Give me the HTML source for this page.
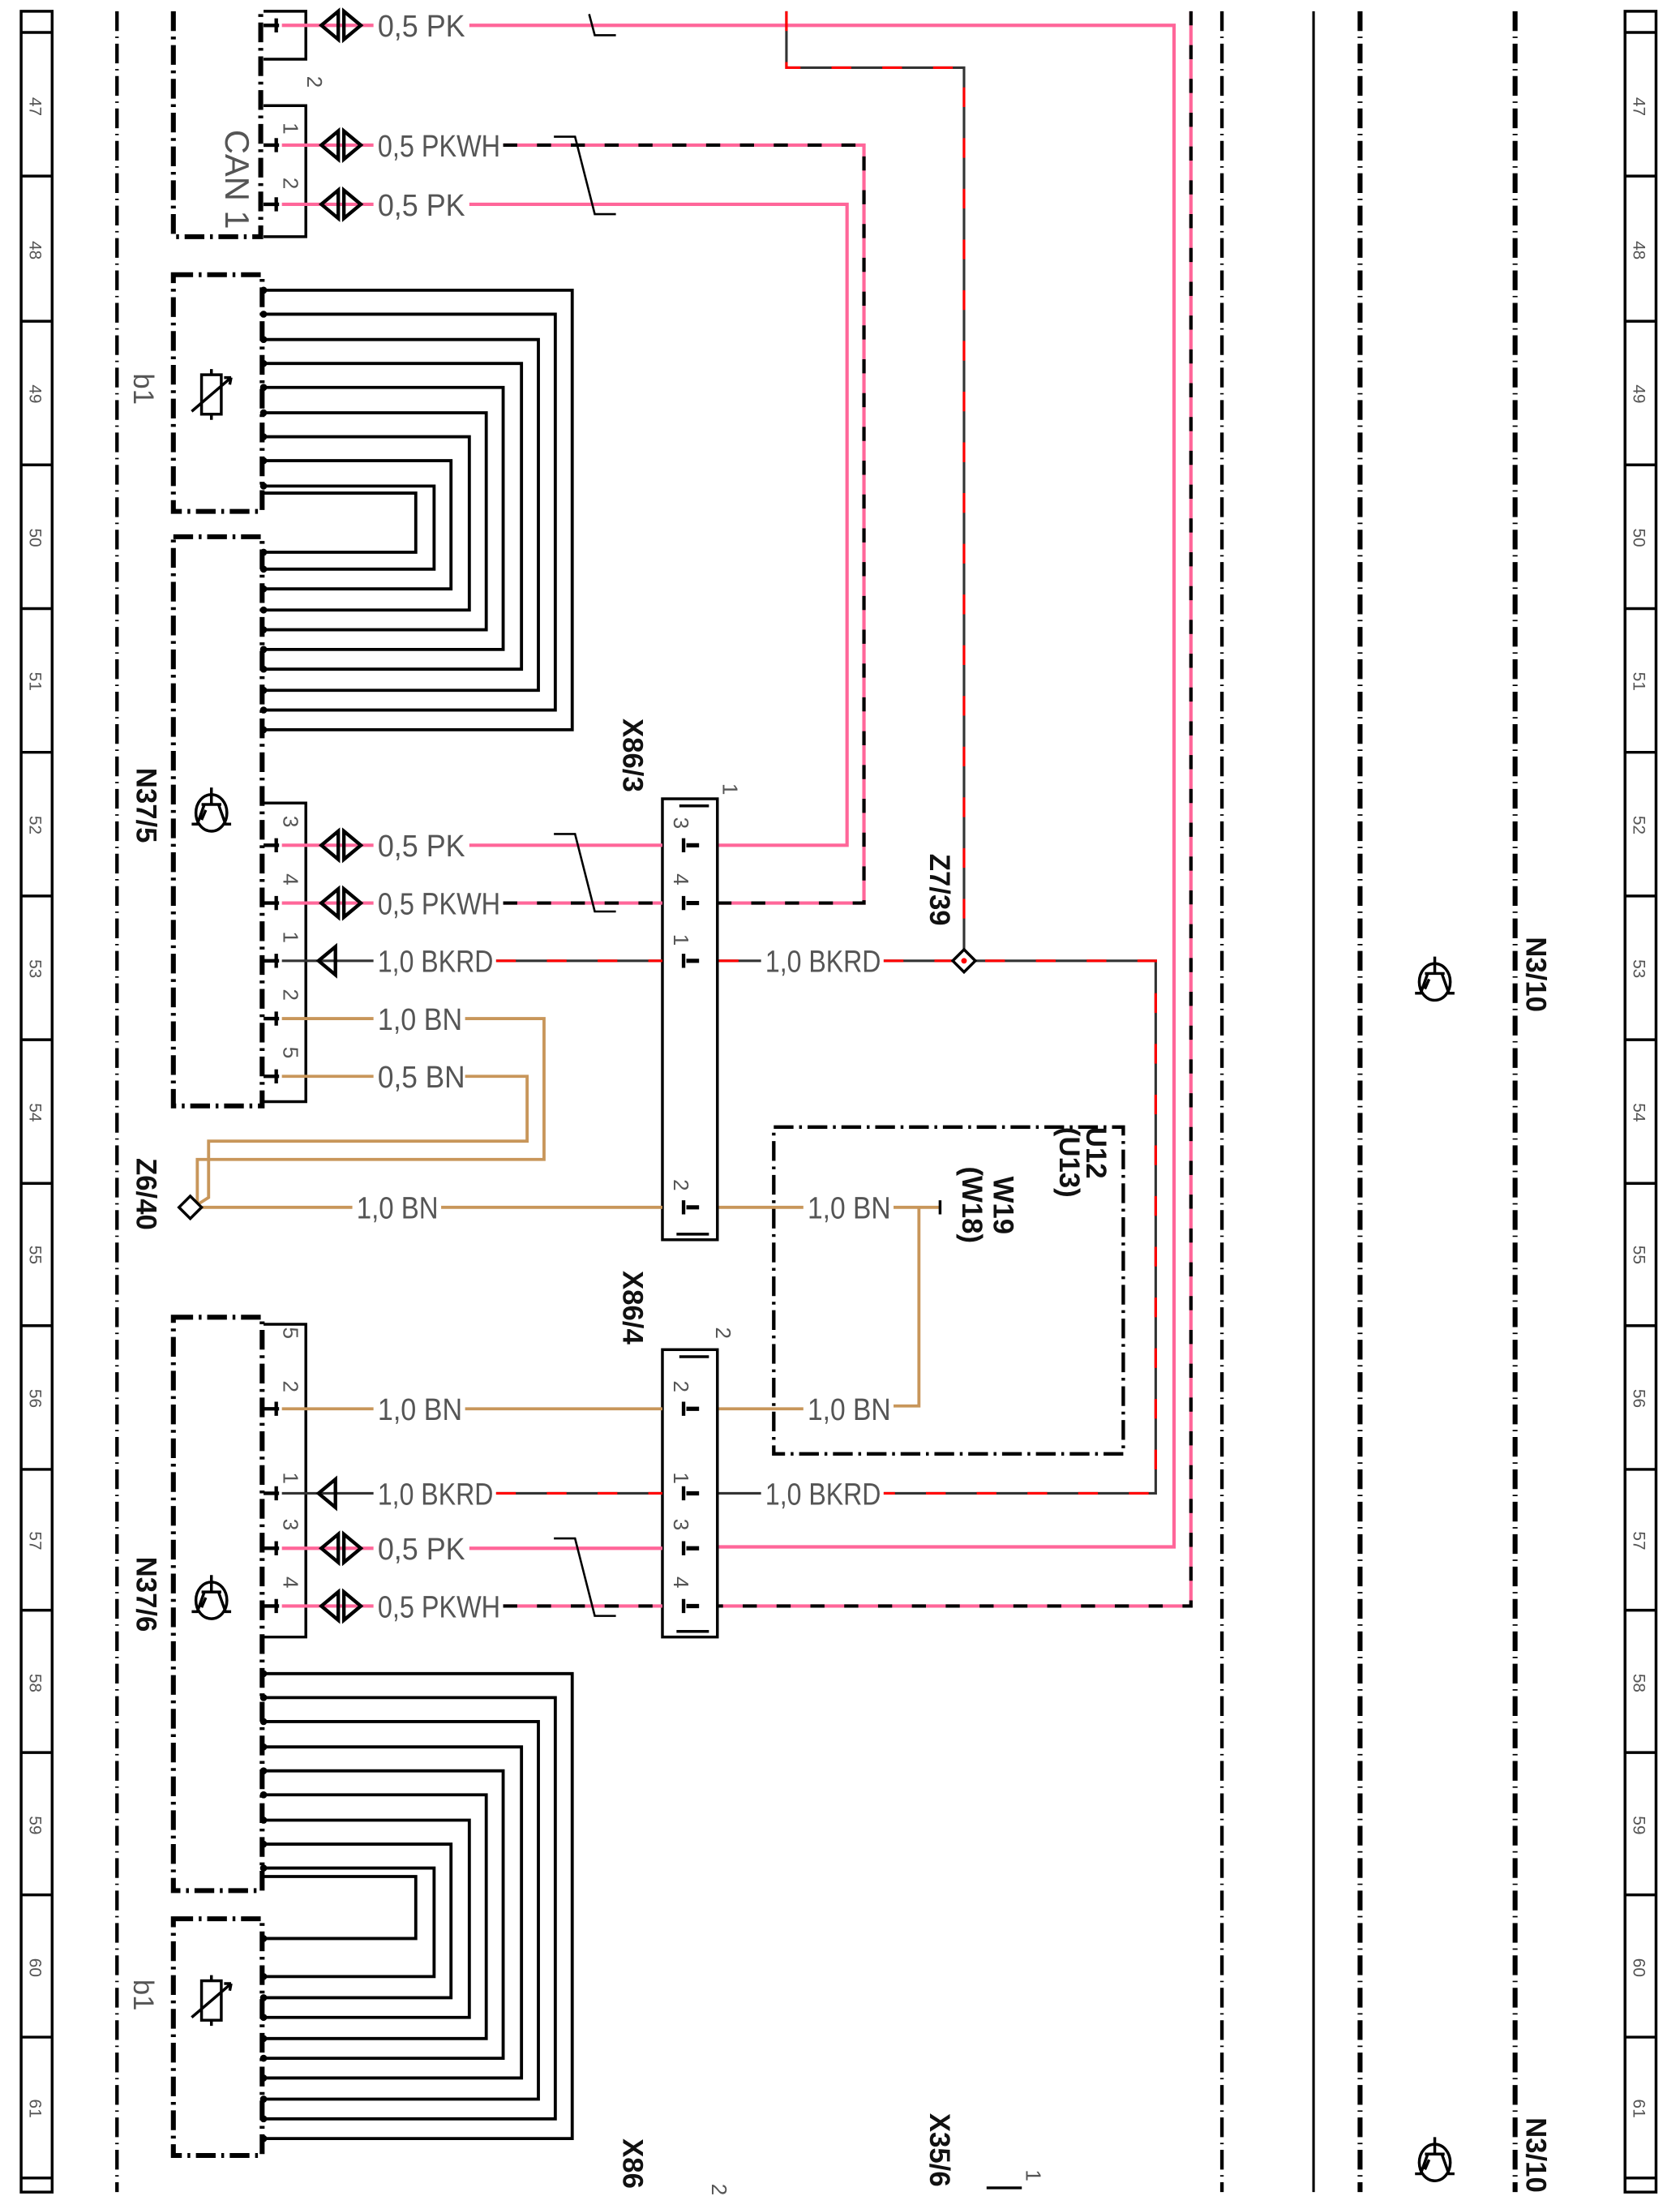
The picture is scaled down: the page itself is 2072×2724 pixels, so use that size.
<!DOCTYPE html>
<html><head><meta charset="utf-8"><style>
html,body{margin:0;padding:0;background:#fff}
svg{display:block}
.t{font-family:"Liberation Sans",sans-serif;fill:#555;font-size:22px}
.b{font-family:"Liberation Sans",sans-serif;fill:#111;font-size:20px;font-weight:bold}
.n{font-family:"Liberation Sans",sans-serif;fill:#555;font-size:12px}
</style></head><body>
<svg width="2072" height="2724" viewBox="0 0 1192 1568" preserveAspectRatio="none" xmlns="http://www.w3.org/2000/svg">
<rect width="1192" height="1568" fill="#fff"/>
<g fill="none" stroke="#000" stroke-width="2">
<rect x="15" y="8" width="22" height="1548"/>
<rect x="1153" y="8" width="22" height="1548"/>
</g>
<g stroke="#000" stroke-width="2">
<line x1="15" y1="23" x2="37" y2="23"/><line x1="1153" y1="23" x2="1175" y2="23"/>
<line x1="15" y1="125" x2="37" y2="125"/><line x1="1153" y1="125" x2="1175" y2="125"/>
<line x1="15" y1="228" x2="37" y2="228"/><line x1="1153" y1="228" x2="1175" y2="228"/>
<line x1="15" y1="330" x2="37" y2="330"/><line x1="1153" y1="330" x2="1175" y2="330"/>
<line x1="15" y1="432" x2="37" y2="432"/><line x1="1153" y1="432" x2="1175" y2="432"/>
<line x1="15" y1="534" x2="37" y2="534"/><line x1="1153" y1="534" x2="1175" y2="534"/>
<line x1="15" y1="636" x2="37" y2="636"/><line x1="1153" y1="636" x2="1175" y2="636"/>
<line x1="15" y1="738" x2="37" y2="738"/><line x1="1153" y1="738" x2="1175" y2="738"/>
<line x1="15" y1="840" x2="37" y2="840"/><line x1="1153" y1="840" x2="1175" y2="840"/>
<line x1="15" y1="941" x2="37" y2="941"/><line x1="1153" y1="941" x2="1175" y2="941"/>
<line x1="15" y1="1043" x2="37" y2="1043"/><line x1="1153" y1="1043" x2="1175" y2="1043"/>
<line x1="15" y1="1143" x2="37" y2="1143"/><line x1="1153" y1="1143" x2="1175" y2="1143"/>
<line x1="15" y1="1244" x2="37" y2="1244"/><line x1="1153" y1="1244" x2="1175" y2="1244"/>
<line x1="15" y1="1345" x2="37" y2="1345"/><line x1="1153" y1="1345" x2="1175" y2="1345"/>
<line x1="15" y1="1446" x2="37" y2="1446"/><line x1="1153" y1="1446" x2="1175" y2="1446"/>
<line x1="15" y1="1546" x2="37" y2="1546"/><line x1="1153" y1="1546" x2="1175" y2="1546"/>
</g>
<g class="n">
<text transform="translate(21,69) rotate(90)">47</text><text transform="translate(1159,69) rotate(90)">47</text>
<text transform="translate(21,171) rotate(90)">48</text><text transform="translate(1159,171) rotate(90)">48</text>
<text transform="translate(21,273) rotate(90)">49</text><text transform="translate(1159,273) rotate(90)">49</text>
<text transform="translate(21,375) rotate(90)">50</text><text transform="translate(1159,375) rotate(90)">50</text>
<text transform="translate(21,477) rotate(90)">51</text><text transform="translate(1159,477) rotate(90)">51</text>
<text transform="translate(21,579) rotate(90)">52</text><text transform="translate(1159,579) rotate(90)">52</text>
<text transform="translate(21,681) rotate(90)">53</text><text transform="translate(1159,681) rotate(90)">53</text>
<text transform="translate(21,783) rotate(90)">54</text><text transform="translate(1159,783) rotate(90)">54</text>
<text transform="translate(21,884) rotate(90)">55</text><text transform="translate(1159,884) rotate(90)">55</text>
<text transform="translate(21,986) rotate(90)">56</text><text transform="translate(1159,986) rotate(90)">56</text>
<text transform="translate(21,1087) rotate(90)">57</text><text transform="translate(1159,1087) rotate(90)">57</text>
<text transform="translate(21,1188) rotate(90)">58</text><text transform="translate(1159,1188) rotate(90)">58</text>
<text transform="translate(21,1289) rotate(90)">59</text><text transform="translate(1159,1289) rotate(90)">59</text>
<text transform="translate(21,1390) rotate(90)">60</text><text transform="translate(1159,1390) rotate(90)">60</text>
<text transform="translate(21,1490) rotate(90)">61</text><text transform="translate(1159,1490) rotate(90)">61</text>
</g>
<g fill="none" stroke="#000">
<line x1="83" y1="8" x2="83" y2="1556" stroke-width="2.5" stroke-dasharray="14,4,1,4"/>
<line x1="867" y1="8" x2="867" y2="1556" stroke-width="2.5" stroke-dasharray="14,4,1,4"/>
<line x1="932" y1="8" x2="932" y2="1556" stroke-width="1.8"/>
<line x1="965" y1="8" x2="965" y2="1556" stroke-width="3.5" stroke-dasharray="14,4,1,4"/>
<line x1="1075" y1="8" x2="1075" y2="1556" stroke-width="3.5" stroke-dasharray="14,4,1,4"/>
</g>
<g fill="none" stroke="#000" stroke-width="3.5" stroke-dasharray="14,4,2,4">
<path d="M123,8 V168 H185 V8"/>
<rect x="123" y="195" width="63" height="168"/>
<rect x="123" y="381" width="63" height="404"/>
<rect x="123" y="935" width="63" height="407"/>
<rect x="123" y="1362" width="63" height="168"/>
<rect x="549" y="800" width="248" height="232" stroke-width="2.5"/>
</g>
<g fill="none" stroke="#000" stroke-width="2">
<path d="M187,8 H217 V42 H187"/>
<path d="M187,75 H217 V168 H187"/>
<path d="M187,570 H217 V782 H187"/>
<path d="M187,940 H217 V1162 H187"/>
<rect x="470" y="567" width="39" height="313"/>
<line x1="482" y1="572" x2="503" y2="572"/><line x1="480" y1="876" x2="503" y2="876"/>
<rect x="470" y="958" width="39" height="204"/>
<line x1="482" y1="963" x2="503" y2="963"/><line x1="480" y1="1158" x2="503" y2="1158"/>
<path d="M700,1553 H725"/>
</g>
<g fill="none" stroke="#000" stroke-width="2.2">
<path d="M187,206 H406 V518 H187"/>
<path d="M187,223 H394 V504 H187"/>
<path d="M187,241 H382 V490 H187"/>
<path d="M187,258 H370 V475 H187"/>
<path d="M187,275 H357 V461 H187"/>
<path d="M187,293 H345 V447 H187"/>
<path d="M187,310 H333 V433 H187"/>
<path d="M187,327 H320 V418 H187"/>
<path d="M187,345 H308 V404 H187"/>
<path d="M187,350 H295 V392 H187"/>
<path d="M187,1188 H406 V1518 H187"/>
<path d="M187,1205 H394 V1504 H187"/>
<path d="M187,1222 H382 V1490 H187"/>
<path d="M187,1240 H370 V1475 H187"/>
<path d="M187,1257 H357 V1461 H187"/>
<path d="M187,1274 H345 V1447 H187"/>
<path d="M187,1292 H333 V1432 H187"/>
<path d="M187,1309 H320 V1418 H187"/>
<path d="M187,1326 H308 V1403 H187"/>
<path d="M187,1332 H295 V1376 H187"/>
</g>
<g fill="#000">
<circle cx="187" cy="206" r="2.5"/><circle cx="187" cy="223" r="2.5"/><circle cx="187" cy="241" r="2.5"/><circle cx="187" cy="258" r="2.5"/><circle cx="187" cy="275" r="2.5"/><circle cx="187" cy="293" r="2.5"/><circle cx="187" cy="310" r="2.5"/><circle cx="187" cy="327" r="2.5"/><circle cx="187" cy="345" r="2.5"/>
<circle cx="187" cy="392" r="2.5"/><circle cx="187" cy="404" r="2.5"/><circle cx="187" cy="418" r="2.5"/><circle cx="187" cy="433" r="2.5"/><circle cx="187" cy="447" r="2.5"/><circle cx="187" cy="461" r="2.5"/><circle cx="187" cy="475" r="2.5"/><circle cx="187" cy="490" r="2.5"/><circle cx="187" cy="504" r="2.5"/><circle cx="187" cy="518" r="2.5"/>
<circle cx="187" cy="1188" r="2.5"/><circle cx="187" cy="1205" r="2.5"/><circle cx="187" cy="1222" r="2.5"/><circle cx="187" cy="1240" r="2.5"/><circle cx="187" cy="1257" r="2.5"/><circle cx="187" cy="1274" r="2.5"/><circle cx="187" cy="1292" r="2.5"/><circle cx="187" cy="1309" r="2.5"/><circle cx="187" cy="1326" r="2.5"/>
<circle cx="187" cy="1376" r="2.5"/><circle cx="187" cy="1403" r="2.5"/><circle cx="187" cy="1418" r="2.5"/><circle cx="187" cy="1432" r="2.5"/><circle cx="187" cy="1447" r="2.5"/><circle cx="187" cy="1461" r="2.5"/><circle cx="187" cy="1475" r="2.5"/><circle cx="187" cy="1490" r="2.5"/><circle cx="187" cy="1504" r="2.5"/><circle cx="187" cy="1518" r="2.5"/>
</g>
<g fill="none" stroke="#ff6699" stroke-width="2.4">
<path d="M200,18 H265"/><path d="M333,18 H833 V1098 H510"/>
<path d="M200,145 H265"/><path d="M333,145 H601 V600 H510"/>
<path d="M200,600 H265"/><path d="M333,600 H470"/>
<path d="M200,1099 H265"/><path d="M333,1099 H470"/>
<path d="M200,103 H265"/><path d="M200,641 H265"/><path d="M200,1140 H265"/>
<path d="M357,103 H613 V641 H510"/><path d="M357,641 H470"/>
<path d="M845,8 V1140 H510"/><path d="M357,1140 H470"/>
</g>
<g fill="none" stroke="#000" stroke-width="2.4" stroke-dasharray="10,14">
<path d="M357,103 H613 V641 H510"/><path d="M357,641 H470"/>
<path d="M845,8 V1140 H510"/><path d="M357,1140 H470"/>
</g>
<g fill="none" stroke="#333" stroke-width="1.8">
<path d="M558,8 V48 H684 V682"/>
<path d="M200,682 H265"/><path d="M352,682 H470"/><path d="M510,682 H540"/><path d="M627,682 H820 V1060 H627"/><path d="M540,1060 H510"/><path d="M352,1060 H470"/><path d="M200,1060 H265"/>
</g>
<g fill="none" stroke="#ff0000" stroke-width="1.8" stroke-dasharray="14,22">
<path d="M558,8 V48 H684 V682"/>
<path d="M352,682 H470"/><path d="M510,682 H540"/><path d="M627,682 H820 V1060 H627"/><path d="M352,1060 H470"/>
</g>
<g fill="none" stroke="#c8965a" stroke-width="2.2">
<path d="M200,723 H265"/><path d="M330,723 H386 V823 H140 V855"/>
<path d="M200,764 H265"/><path d="M330,764 H374 V810 H148 V850 L137,857"/>
<path d="M140,857 H250"/><path d="M313,857 H470"/><path d="M510,857 H570"/><path d="M634,857 H667"/>
<path d="M652,857 V998 H634"/><path d="M570,1000 H510"/><path d="M470,1000 H330"/><path d="M200,1000 H265"/>
</g>
<line x1="667" y1="852" x2="667" y2="862" stroke="#000" stroke-width="2"/>
<g fill="none" stroke="#000" stroke-width="2.5">
<path d="M196,13 V23 M187,18 H198"/><path d="M196,98 V108 M187,103 H198"/><path d="M196,140 V150 M187,145 H198"/>
<path d="M196,595 V605 M187,600 H198"/><path d="M196,636 V646 M187,641 H198"/><path d="M196,677 V687 M187,682 H198"/><path d="M196,718 V728 M187,723 H198"/><path d="M196,759 V769 M187,764 H198"/>
<path d="M196,995 V1005 M187,1000 H198"/><path d="M196,1055 V1065 M187,1060 H198"/><path d="M196,1094 V1104 M187,1099 H198"/><path d="M196,1135 V1145 M187,1140 H198"/>
<path d="M485,595 V605 M485,636 V646 M485,677 V687 M485,852 V862"/>
<path d="M485,995 V1005 M485,1055 V1065 M485,1094 V1104 M485,1135 V1145"/>
</g>
<g stroke="#000" stroke-width="3">
<path d="M487,600 H496 M487,641 H496 M487,682 H496 M487,857 H496 M487,1000 H496 M487,1060 H496 M487,1099 H496 M487,1140 H496"/>
</g>
<g fill="none" stroke="#000" stroke-width="2.5">
<path d="M240,8 L228,18 L240,28 Z M244,8 L256,18 L244,28 Z"/>
<path d="M240,93 L228,103 L240,113 Z M244,93 L256,103 L244,113 Z"/>
<path d="M240,135 L228,145 L240,155 Z M244,135 L256,145 L244,155 Z"/>
<path d="M240,590 L228,600 L240,610 Z M244,590 L256,600 L244,610 Z"/>
<path d="M240,631 L228,641 L240,651 Z M244,631 L256,641 L244,651 Z"/>
<path d="M238,672 L226,682 L238,692 Z"/>
<path d="M238,1050 L226,1060 L238,1070 Z"/>
<path d="M240,1089 L228,1099 L240,1109 Z M244,1089 L256,1099 L244,1109 Z"/>
<path d="M240,1130 L228,1140 L240,1150 Z M244,1130 L256,1140 L244,1150 Z"/>
</g>
<g fill="none" stroke="#000" stroke-width="1.5">
<path d="M418,10 L422,25 H437"/>
<path d="M393,97 H408 L422,152 H437"/>
<path d="M393,592 H408 L422,647 H437"/>
<path d="M393,1092 H408 L422,1147 H437"/>
</g>
<g fill="#fff" stroke="#000" stroke-width="2">
<path d="M684,674 L692,682 L684,690 L676,682 Z"/>
<path d="M135,849 L143,857 L135,865 L127,857 Z"/>
</g>
<circle cx="684" cy="682" r="2" fill="#f00"/>
<g fill="none" stroke="#000" stroke-width="2">
<g transform="translate(150,577)"><ellipse rx="11" ry="13"/><path d="M0,-18 V-6 M-7,-6 H7 M-5,-6 L-10,8 H-14 M5,-6 L10,8 H14 M-4,-2 L-7,5"/></g>
<g transform="translate(150,1136)"><ellipse rx="11" ry="13"/><path d="M0,-18 V-6 M-7,-6 H7 M-5,-6 L-10,8 H-14 M5,-6 L10,8 H14 M-4,-2 L-7,5"/></g>
<g transform="translate(1018,697)"><ellipse rx="11" ry="13"/><path d="M0,-18 V-6 M-7,-6 H7 M-5,-6 L-10,8 H-14 M5,-6 L10,8 H14 M-4,-2 L-7,5"/></g>
<g transform="translate(1018,1535)"><ellipse rx="11" ry="13"/><path d="M0,-18 V-6 M-7,-6 H7 M-5,-6 L-10,8 H-14 M5,-6 L10,8 H14 M-4,-2 L-7,5"/></g>
<g transform="translate(150,280)"><rect x="-7" y="-14" width="14" height="28"/><path d="M-14,12 L14,-12 M0,-18 V-14 M0,14 V18 M14,-12 L9,-12 M14,-12 L13,-7"/></g>
<g transform="translate(150,1420)"><rect x="-7" y="-14" width="14" height="28"/><path d="M-14,12 L14,-12 M0,-18 V-14 M0,14 V18 M14,-12 L9,-12 M14,-12 L13,-7"/></g>
</g>
<g class="t" lengthAdjust="spacingAndGlyphs">
<text x="268" y="26" textLength="62" lengthAdjust="spacingAndGlyphs">0,5 PK</text>
<text x="268" y="111" textLength="87" lengthAdjust="spacingAndGlyphs">0,5 PKWH</text>
<text x="268" y="153" textLength="62" lengthAdjust="spacingAndGlyphs">0,5 PK</text>
<text x="268" y="608" textLength="62" lengthAdjust="spacingAndGlyphs">0,5 PK</text>
<text x="268" y="649" textLength="87" lengthAdjust="spacingAndGlyphs">0,5 PKWH</text>
<text x="268" y="690" textLength="82" lengthAdjust="spacingAndGlyphs">1,0 BKRD</text>
<text x="268" y="731" textLength="60" lengthAdjust="spacingAndGlyphs">1,0 BN</text>
<text x="268" y="772" textLength="62" lengthAdjust="spacingAndGlyphs">0,5 BN</text>
<text x="253" y="865" textLength="58" lengthAdjust="spacingAndGlyphs">1,0 BN</text>
<text x="543" y="690" textLength="82" lengthAdjust="spacingAndGlyphs">1,0 BKRD</text>
<text x="573" y="865" textLength="59" lengthAdjust="spacingAndGlyphs">1,0 BN</text>
<text x="573" y="1008" textLength="59" lengthAdjust="spacingAndGlyphs">1,0 BN</text>
<text x="268" y="1008" textLength="60" lengthAdjust="spacingAndGlyphs">1,0 BN</text>
<text x="268" y="1068" textLength="82" lengthAdjust="spacingAndGlyphs">1,0 BKRD</text>
<text x="543" y="1068" textLength="82" lengthAdjust="spacingAndGlyphs">1,0 BKRD</text>
<text x="268" y="1107" textLength="62" lengthAdjust="spacingAndGlyphs">0,5 PK</text>
<text x="268" y="1148" textLength="87" lengthAdjust="spacingAndGlyphs">0,5 PKWH</text>
</g>
<g class="t" style="font-size:15px">
<text transform="translate(201,87) rotate(90)">1</text>
<text transform="translate(201,126) rotate(90)">2</text>
<text transform="translate(218,54) rotate(90)">2</text>
<text transform="translate(201,579) rotate(90)">3</text><text transform="translate(201,620) rotate(90)">4</text><text transform="translate(201,661) rotate(90)">1</text><text transform="translate(201,702) rotate(90)">2</text><text transform="translate(201,743) rotate(90)">5</text>
<text transform="translate(201,942) rotate(90)">5</text><text transform="translate(201,980) rotate(90)">2</text><text transform="translate(201,1045) rotate(90)">1</text><text transform="translate(201,1078) rotate(90)">3</text><text transform="translate(201,1119) rotate(90)">4</text>
<text transform="translate(478,580) rotate(90)">3</text><text transform="translate(478,620) rotate(90)">4</text><text transform="translate(478,663) rotate(90)">1</text><text transform="translate(478,837) rotate(90)">2</text>
<text transform="translate(478,980) rotate(90)">2</text><text transform="translate(478,1045) rotate(90)">1</text><text transform="translate(478,1078) rotate(90)">3</text><text transform="translate(478,1119) rotate(90)">4</text>
<text transform="translate(513,556) rotate(90)">1</text><text transform="translate(508,942) rotate(90)">2</text>
<text transform="translate(505,1550) rotate(90)">2</text><text transform="translate(728,1540) rotate(90)">1</text>
</g>
<text class="t" transform="translate(160,92) rotate(90)" style="font-size:24px">CAN 1</text>
<text class="t" transform="translate(95,265) rotate(90)" style="font-size:20px">b1</text>
<text class="t" transform="translate(95,1405) rotate(90)" style="font-size:20px">b1</text>
<g class="b">
<text transform="translate(97,545) rotate(90)">N37/5</text>
<text transform="translate(97,1105) rotate(90)">N37/6</text>
<text transform="translate(97,822) rotate(90)">Z6/40</text>
<text transform="translate(442,510) rotate(90)">X86/3</text>
<text transform="translate(442,902) rotate(90)">X86/4</text>
<text transform="translate(660,606) rotate(90)">Z7/39</text>
<text transform="translate(771,800) rotate(90)">U12</text>
<text transform="translate(752,800) rotate(90)">(U13)</text>
<text transform="translate(705,835) rotate(90)">W19</text>
<text transform="translate(683,828) rotate(90)">(W18)</text>
<text transform="translate(1083,665) rotate(90)">N3/10</text>
<text transform="translate(1083,1503) rotate(90)">N3/10</text>
<text transform="translate(442,1518) rotate(90)">X86</text>
<text transform="translate(660,1500) rotate(90)">X35/6</text>
</g>
</svg>
</body></html>
